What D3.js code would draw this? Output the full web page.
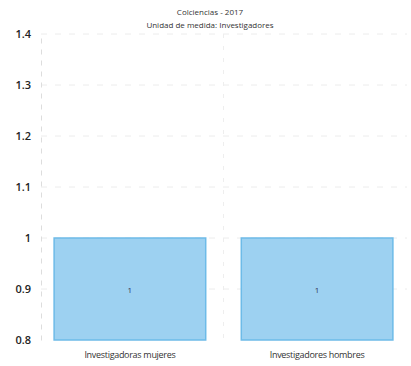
<!DOCTYPE html>
<html>
<head>
<meta charset="utf-8">
<script src="https://cdn.jsdelivr.net/npm/d3@7"></script>
<style>
  html, body { margin: 0; padding: 0; background: #fff; }
  svg { display: block; font-family: "Open Sans", "DejaVu Sans", sans-serif; }
</style>
</head>
<body>
<svg id="chart" width="411" height="366"></svg>
<script>
const titleLines = ["Colciencias - 2017", "Unidad de medida: Investigadores"];
const categories = ["Investigadoras mujeres", "Investigadores hombres"];
const values = [1, 1];
const valueLabels = ["1", "1"];
const yTicks = [0.8, 0.9, 1.0, 1.1, 1.2, 1.3, 1.4];
const yTickLabels = ["0.8", "0.9", "1", "1.1", "1.2", "1.3", "1.4"];
const yDomain = [0.8, 1.4];

const svg = d3.select("#chart");
const W = 411, H = 366;
const plot = { left: 41, right: 406, top: 34, bottom: 340 };

const x = d3.scaleBand().domain(categories).range([plot.left, plot.right])
  .paddingInner(0.19).paddingOuter(0.07);
const y = d3.scaleLinear().domain(yDomain).range([plot.bottom, plot.top]);

// title
svg.append("g").selectAll("text").data(titleLines).join("text")
  .attr("x", 210).attr("y", (d, i) => 15 + i * 13)
  .attr("text-anchor", "middle")
  .attr("font-size", 8)
  .attr("fill", "#333")
  .text(d => d);

// gridlines
svg.append("g").selectAll("line").data(yTicks.slice(1)).join("line")
  .attr("x1", plot.left).attr("x2", W - 4)
  .attr("y1", d => y(d)).attr("y2", d => y(d))
  .attr("stroke", "#ececec").attr("stroke-width", 1)
  .attr("stroke-dasharray", "6,8");

// vertical separator between categories
svg.append("line")
  .attr("x1", (x(categories[0]) + x.bandwidth() + x(categories[1])) / 2)
  .attr("x2", (x(categories[0]) + x.bandwidth() + x(categories[1])) / 2)
  .attr("y1", plot.top).attr("y2", plot.bottom)
  .attr("stroke", "#eeeeee").attr("stroke-dasharray", "4,8");

// y axis
const yAxis = d3.axisLeft(y).tickValues(yTicks)
  .tickFormat((d, i) => yTickLabels[i]).tickSize(0).tickPadding(10);
const gy = svg.append("g").attr("transform", `translate(${plot.left},0)`).call(yAxis);
gy.select(".domain").attr("stroke", "#dddddd").attr("stroke-dasharray", "5,6");
gy.selectAll("text").attr("font-size", 11).attr("fill", "#222")
  .attr("font-weight", 600).attr("font-family", "'Open Sans', sans-serif");

// bars
svg.append("g").selectAll("rect").data(values).join("rect")
  .attr("x", (d, i) => x(categories[i]))
  .attr("y", d => y(d))
  .attr("width", x.bandwidth())
  .attr("height", d => y(yDomain[0]) - y(d))
  .attr("fill", "#9dd1f1")
  .attr("stroke", "#6dbbe8")
  .attr("stroke-width", 1.5);

// value labels
svg.append("g").selectAll("text").data(values).join("text")
  .attr("x", (d, i) => x(categories[i]) + x.bandwidth() / 2)
  .attr("y", d => (y(d) + y(yDomain[0])) / 2 + 4)
  .attr("text-anchor", "middle")
  .attr("font-size", 8)
  .attr("fill", "#335")
  .text((d, i) => valueLabels[i]);

// category labels
const xAxis = d3.axisBottom(x).tickSize(0).tickPadding(12);
const gx = svg.append("g").attr("transform", `translate(0,${plot.bottom})`).call(xAxis);
gx.select(".domain").remove();
gx.selectAll("text").attr("font-size", 9).attr("fill", "#333")
  .attr("font-family", "'Open Sans', sans-serif").attr("letter-spacing", "-0.3");
</script>
</body>
</html>
